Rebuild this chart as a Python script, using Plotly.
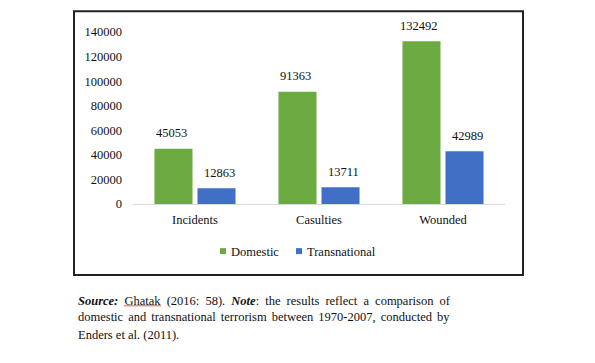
import plotly.graph_objects as go

categories = ["Incidents", "Casulties", "Wounded"]
domestic = [45053, 91363, 132492]
transnational = [12863, 13711, 42989]
series_names = ["Domestic", "Transnational"]
tick_vals = [0, 20000, 40000, 60000, 80000, 100000, 120000, 140000]
tick_text = [str(v) for v in tick_vals]

GREEN = "#6bab41"
BLUE = "#416fc6"
FONT = "Liberation Serif"
TXT = "#111"

OFF = 8  # page body margin
W, H = 595 - 2 * OFF, 363 - 2 * OFF
L, R, T, B = 133 - OFF, 505 - OFF, 31.7 - OFF, 204 - OFF
pw, ph = R - L, B - T

def px(x):
    return (x - OFF - L) / pw

def py(y):
    return (B - (y - OFF)) / ph

fig = go.Figure()
colors = [GREEN, BLUE]
for name, vals, col in [(series_names[0], domestic, GREEN), (series_names[1], transnational, BLUE)]:
    fig.add_trace(go.Bar(
        x=categories, y=vals, name=name, marker=dict(color=col, line=dict(width=0)),
        showlegend=False,
    ))

# value labels above bars
for k, vals in enumerate([domestic, transnational]):
    shift = -24 if k == 0 else 24
    for c, v in zip(categories, vals):
        fig.add_annotation(x=c, y=v, text=str(v), showarrow=False, xshift=shift,
                           yanchor="middle", yshift=15.5,
                           font=dict(family=FONT, size=12.5, color=TXT))

fig.update_layout(
    width=W, height=H,
    margin=dict(l=L, r=W - R, t=T, b=H - B, pad=0),
    paper_bgcolor="white", plot_bgcolor="white",
    barmode="group", bargap=0.306, bargroupgap=0.116,
    font=dict(family=FONT, size=12.5, color=TXT),
    showlegend=False,
    xaxis=dict(showline=True, linecolor="#d9d9d9", linewidth=1, ticks="", ticklabelstandoff=4,
               tickfont=dict(family=FONT, size=12.5, color=TXT), showgrid=False),
    yaxis=dict(range=[0, 140000], tickvals=tick_vals, ticktext=tick_text, showgrid=False,
               zeroline=False, showline=False, ticks="", ticklabelstandoff=10,
               tickfont=dict(family=FONT, size=12.5, color=TXT)),
)

shapes = [dict(type="rect", xref="paper", yref="paper",
               x0=px(74), x1=px(523), y0=py(275), y1=py(11),
               line=dict(color="#222", width=2), fillcolor="rgba(0,0,0,0)", layer="above")]

# manual legend: small squares + labels
legend_sq_x = [223, 299]
legend_y = 251.7
for name, col, sx in zip(series_names, colors, legend_sq_x):
    shapes.append(dict(type="rect", xref="paper", yref="paper",
                       x0=px(sx - 3), x1=px(sx + 3), y0=py(legend_y + 2.5), y1=py(legend_y - 3.5),
                       line=dict(width=0), fillcolor=col))
    fig.add_annotation(text=name, xref="paper", yref="paper", x=px(sx + 6), y=py(legend_y),
                       xanchor="left", yanchor="middle", showarrow=False,
                       font=dict(family=FONT, size=12.5, color=TXT))

# spell-check style red underline beneath "Ghatak"
shapes.append(dict(type="line", xref="paper", yref="paper",
                   x0=px(124), x1=px(161), y0=py(306), y1=py(306),
                   line=dict(color="#e05a5a", width=1)))
fig.update_layout(shapes=shapes)

caption_lines = [
    "<span style='word-spacing:3px'><b><i>Source:</i></b> Ghatak (2016: 58). <b><i>Note</i></b>: the results reflect a comparison of</span>",
    "<span style='word-spacing:1.9px'>domestic and transnational terrorism between 1970-2007, conducted by</span>",
    "Enders et al. (2011).",
]
caption_y = [300.7, 317, 335]
for txt, yy in zip(caption_lines, caption_y):
    fig.add_annotation(text=txt, xref="paper", yref="paper", x=px(76), y=py(yy),
                       xanchor="left", yanchor="middle", showarrow=False, align="left",
                       font=dict(family=FONT, size=12.5, color=TXT))

fig.write_html("out.html")
